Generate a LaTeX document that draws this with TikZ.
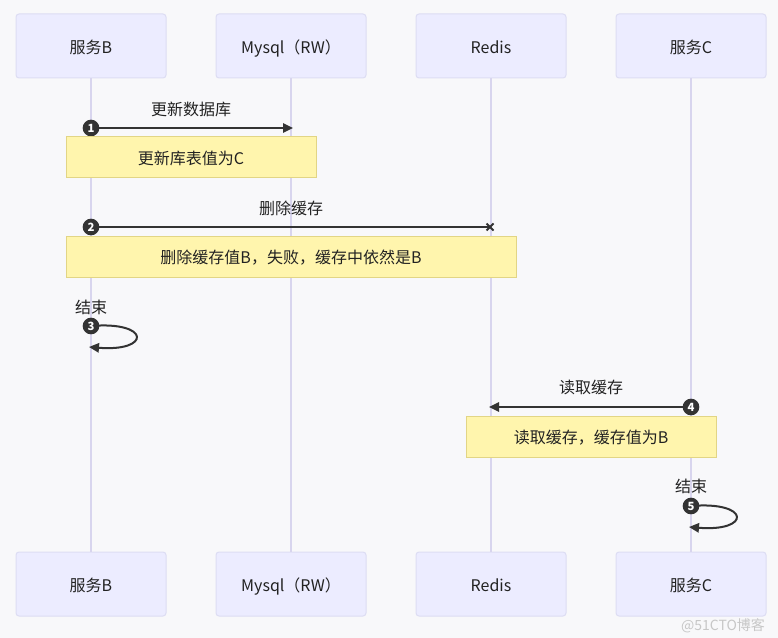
\documentclass[tikz,border=0pt]{standalone}
\usepackage{fontspec}
\setmainfont{Noto Sans CJK SC}
\usetikzlibrary{arrows.meta}
\definecolor{bgc}{HTML}{F8F8FA}
\definecolor{actfill}{HTML}{ECECFF}
\definecolor{actdraw}{HTML}{DDDDF3}
\definecolor{lifec}{HTML}{D8D5EE}
\definecolor{notefill}{HTML}{FFF5AD}
\definecolor{notedraw}{HTML}{E2D585}
\definecolor{msgc}{HTML}{333333}
\definecolor{txtc}{HTML}{222222}
\tikzset{
  actor/.style={rectangle, rounded corners=2.25pt, minimum width=112.5pt, minimum height=48pt,
    fill=actfill, draw=actdraw, line width=0.75pt, text=txtc, font=\fontsize{12}{14}\selectfont,
    text height=11.5pt, text depth=0.5pt},
  life/.style={draw=lifec, line width=1.1pt},
  notebox/.style={rectangle, fill=notefill, draw=notedraw, line width=0.75pt, minimum height=30.75pt,
    text=txtc, font=\fontsize{12}{14}\selectfont, inner sep=0pt, text height=11.5pt, text depth=0.5pt},
  lbl/.style={text=txtc, font=\fontsize{12}{14}\selectfont, inner sep=0pt, text height=11.5pt, text depth=0.5pt},
  msg/.style={draw=msgc, line width=1.5pt, -{Triangle[length=7.5pt,width=7pt]}},
  msgx/.style={draw=msgc, line width=1.5pt},
  num/.style={circle, fill=msgc, text=white, inner sep=0pt, minimum size=12.5pt,
    font=\fontsize{8.5}{9}\selectfont\bfseries},
}
\begin{document}
\begin{tikzpicture}[x=0.75pt,y=-0.75pt]
\fill[bgc] (0,0) rectangle (778,638);
\useasboundingbox (0,0) rectangle (778,638);
% actors
\node[actor] (bt) at (91,46) {服务B};
\node[actor] (mt) at (291,46) {Mysql（RW）};
\node[actor] (rt) at (491,46) {Redis};
\node[actor] (ct) at (691,46) {服务C};
\node[actor] (bb) at (91,584) {服务B};
\node[actor] (mb) at (291,584) {Mysql（RW）};
\node[actor] (rb) at (491,584) {Redis};
\node[actor] (cb) at (691,584) {服务C};
% lifelines
\draw[life] (bt) -- (bb);
\draw[life] (mt) -- (mb);
\draw[life] (rt) -- (rb);
\draw[life] (ct) -- (cb);
% message 1
\coordinate (m1s) at (91,128);
\coordinate (m1e) at (293,128);
\node[lbl] (l1) at (191,108) {更新数据库};
\draw[msg] (m1s) -- (m1e);
\node[num] (n1) at (m1s) {1};
\node[notebox, minimum width=187.5pt] (note1) at (191,157.5) {更新库表值为C};
% message 2
\coordinate (m2s) at (91,227);
\coordinate (m2e) at (490,227);
\node[lbl] (l2) at (291,207) {删除缓存};
\draw[msgx] (m2s) -- (m2e);
\draw[msg, -] ([shift={(-3.5,-3.5)}]m2e) -- ([shift={(3.5,3.5)}]m2e);
\draw[msg, -] ([shift={(-3.5,3.5)}]m2e) -- ([shift={(3.5,-3.5)}]m2e);
\node[num] (n2) at (m2s) {2};
\node[notebox, minimum width=337.5pt] (note2) at (291,256.5) {删除缓存值B，失败，缓存中依然是B};
% self message 3
\coordinate (s3a) at (91,326);
\coordinate (s3b) at (89,347);
\node[lbl] (l3) at (91,306) {结束};
\draw[msg] (s3a) .. controls (151,321) and (151,352) .. (s3b);
\node[num] (n3) at (s3a) {3};
% message 4
\coordinate (m4s) at (691,407);
\coordinate (m4e) at (489,407);
\node[lbl] (l4) at (591,386) {读取缓存};
\draw[msg] (m4s) -- (m4e);
\node[num] (n4) at (m4s) {4};
\node[notebox, minimum width=187.5pt] (note3) at (591,436.5) {读取缓存，缓存值为B};
% self message 5
\coordinate (s5a) at (691,506);
\coordinate (s5b) at (689,527);
\node[lbl] (l5) at (691,485) {结束};
\draw[msg] (s5a) .. controls (751,501) and (751,532) .. (s5b);
\node[num] (n5) at (s5a) {5};
% watermark
\node[text=black!22, font=\fontsize{10.5}{12}\selectfont, inner sep=0pt] (wm) at (723,626) {@51CTO博客};
\end{tikzpicture}
\end{document}
